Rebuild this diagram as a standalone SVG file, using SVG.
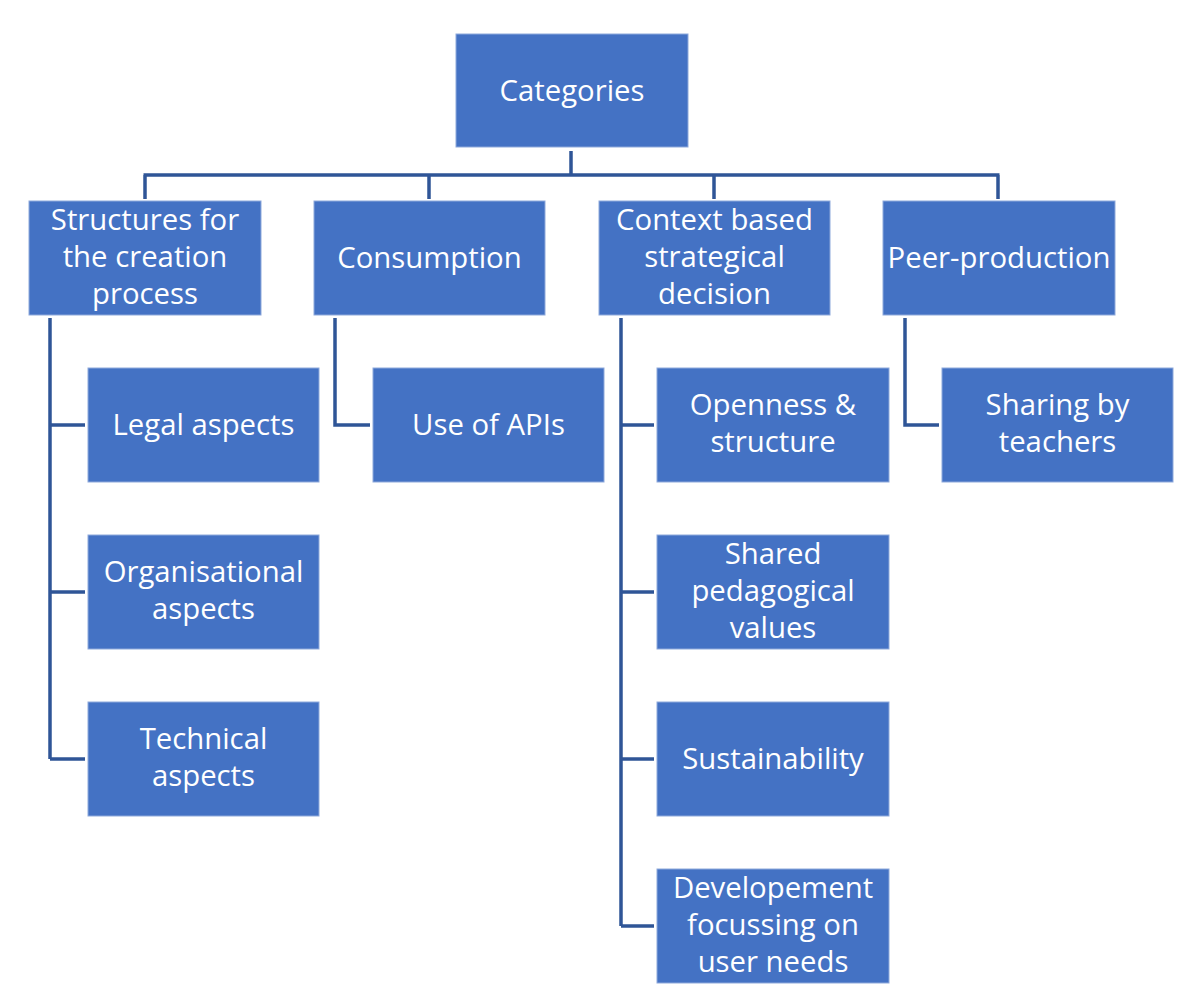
<svg xmlns="http://www.w3.org/2000/svg" width="1200" height="999" viewBox="0 0 1200 999">
<style>
.box{fill:#4472C4;stroke:#8EA9DB;stroke-width:1}
.t{font-family:"Open Sans","Liberation Sans",sans-serif;font-size:29.3px;fill:#ffffff;text-anchor:middle}
.c{fill:none;stroke:#2F5597;stroke-width:3.5;stroke-linecap:butt;stroke-linejoin:miter}
</style>
<rect width="1200" height="999" fill="#ffffff"/>
<g id="connectors">
<path class="c" d="M571,151 V175 M143.5,175 H999.5 M145,175 V199 M429,175 V199 M714,175 V199 M998,175 V199"/>
<path class="c" d="M50,318 V759 M50,425 H85 M50,592 H85 M50,759 H85"/>
<path class="c" d="M335,318 V425 H370"/>
<path class="c" d="M621,318 V926 M621,425 H654 M621,592 H654 M621,759 H654 M621,926 H654"/>
<path class="c" d="M905,318 V425 H939"/>
</g>
<g id="categories"><rect class="box" x="456" y="34" width="232" height="113"/><text class="t" x="572" y="101">Categories</text></g>
<g id="structures"><rect class="box" x="29" y="201" width="232" height="114"/><text class="t" x="145" y="230">Structures for</text><text class="t" x="145" y="267">the creation</text><text class="t" x="145" y="304">process</text></g>
<g id="consumption"><rect class="box" x="314" y="201" width="231" height="114"/><text class="t" x="429.5" y="268">Consumption</text></g>
<g id="context"><rect class="box" x="599" y="201" width="231" height="114"/><text class="t" x="714.5" y="230">Context based</text><text class="t" x="714.5" y="267">strategical</text><text class="t" x="714.5" y="304">decision</text></g>
<g id="peer"><rect class="box" x="883" y="201" width="232" height="114"/><text class="t" x="999" y="268">Peer-production</text></g>
<g id="legal"><rect class="box" x="88" y="368" width="231" height="114"/><text class="t" x="203.5" y="435">Legal aspects</text></g>
<g id="organisational"><rect class="box" x="88" y="535" width="231" height="114"/><text class="t" x="203.5" y="582">Organisational</text><text class="t" x="203.5" y="619">aspects</text></g>
<g id="technical"><rect class="box" x="88" y="702" width="231" height="114"/><text class="t" x="203.5" y="749">Technical</text><text class="t" x="203.5" y="786">aspects</text></g>
<g id="apis"><rect class="box" x="373" y="368" width="231" height="114"/><text class="t" x="488.5" y="435">Use of APIs</text></g>
<g id="openness"><rect class="box" x="657" y="368" width="232" height="114"/><text class="t" x="773" y="415">Openness &amp;</text><text class="t" x="773" y="452">structure</text></g>
<g id="shared"><rect class="box" x="657" y="535" width="232" height="114"/><text class="t" x="773" y="564">Shared</text><text class="t" x="773" y="601">pedagogical</text><text class="t" x="773" y="638">values</text></g>
<g id="sustainability"><rect class="box" x="657" y="702" width="232" height="114"/><text class="t" x="773" y="769">Sustainability</text></g>
<g id="developement"><rect class="box" x="657" y="869" width="232" height="114"/><text class="t" x="773" y="898">Developement</text><text class="t" x="773" y="935">focussing on</text><text class="t" x="773" y="972">user needs</text></g>
<g id="sharing"><rect class="box" x="942" y="368" width="231" height="114"/><text class="t" x="1057.5" y="415">Sharing by</text><text class="t" x="1057.5" y="452">teachers</text></g>
</svg>
